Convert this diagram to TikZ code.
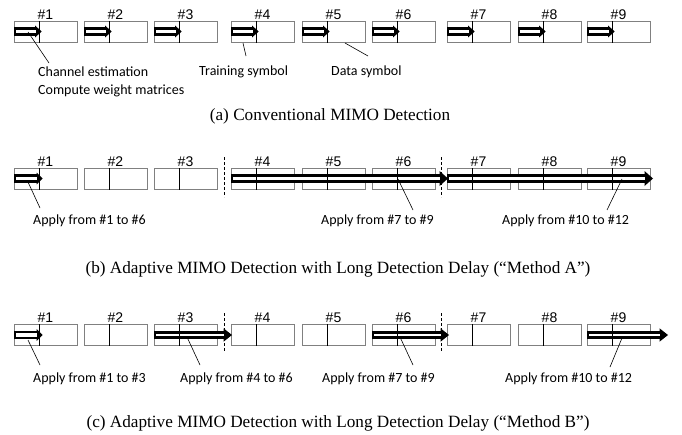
\documentclass[tikz,border=0pt]{standalone}
\usepackage{fontspec}
\setmainfont{Liberation Serif}
\newfontfamily\calfont{Carlito}
\newfontfamily\arifont{Liberation Sans}
\usetikzlibrary{calc}
% hollow arrow: x1, tip x, y, inner white half, head length, head half height
\newcommand\harrow[6]{%
  \fill[black] (#1,{#3-4.2}) rectangle ({#2-#5},{#3+4.2});
  \fill[black] ({#2-#5-0.5},{#3-#6}) -- (#2,#3) -- ({#2-#5-0.5},{#3+#6}) -- cycle;
  \fill[white] ({#1+2.2},{#3-#4}) rectangle ({#2-#5},{#3+#4});
}
\begin{document}
\begin{tikzpicture}[x=1pt,y=-1pt,
  slot/.style={draw=black!50, line width=0.8pt, minimum width=63pt, minimum height=21.5pt, inner sep=0pt, outer sep=0pt, anchor=north west},
  num/.style={font=\arifont\fontsize{14}{16}\selectfont, anchor=base, inner sep=0pt},
  lbl/.style={font=\calfont\fontsize{14}{17}\selectfont, anchor=base west, inner sep=0pt},
  captext/.style={font=\fontsize{17.2}{20}\selectfont, anchor=base, inner sep=0pt},
  ptr/.style={draw=black, line width=0.6pt},
  sepline/.style={draw=black, dash pattern=on 3pt off 2pt, line width=0.6pt}]
\useasboundingbox (0,0) rectangle (682,434);
\fill[white] (0,0) rectangle (682,434);

% boxes
\foreach \r/\t in {a/21,b/168,c/324}{
  \foreach \i/\x in {1/14,2/84,3/154,4/231,5/302,6/372,7/447,8/518,9/587}{
    \node[slot] (\r\i) at (\x,\t) {};
    \node[num] (n\r\i) at ($(\r\i.north)+(0,-2)$) {\#\i};
  }
}

% arrows
\foreach \x in {14,84,154,231,302,372,447,518,587}{
  \harrow{\x}{\x+27.7}{31.5}{1.8}{6}{5.8}
}
\harrow{14}{42.7}{178.5}{1.6}{5.5}{5.8}
\harrow{231}{448}{178.5}{1.1}{8}{7.5}
\harrow{447}{653}{178.5}{1.1}{8}{7.5}
\harrow{14}{42.7}{335}{1.6}{5.5}{5.8}
\harrow{154}{232}{335}{1.1}{8}{6.7}
\harrow{372}{449}{335}{1.1}{8}{6.7}
\harrow{587}{668}{335}{1.1}{8}{6.7}

% dividers
\foreach \r in {a,b,c}{
  \foreach \i in {1,...,9}{
    \draw[line width=0.8pt] ($(\r\i.north west)+(25,0)$) -- ($(\r\i.south west)+(25,0)$);
  }
}

% separators
\draw[sepline] (224,157) -- (224,197);
\draw[sepline] (441,157) -- (441,197);
\draw[sepline] (224,313) -- (224,352);
\draw[sepline] (441,313) -- (441,352);

% row a labels
\node[lbl] (ce) at (38,76) {Channel estimation};
\node[lbl] (cw) at (38,94) {Compute weight matrices};
\node[lbl] (ts) at (199,75.5) {Training symbol};
\node[lbl] (ds) at (331,75.5) {Data symbol};
\coordinate (pa1) at (28,32);  \coordinate (qa1) at (49,63);
\coordinate (pa2) at (243,43); \coordinate (qa2) at (246,56);
\coordinate (pa3) at (345,43); \coordinate (qa3) at (368,56);
\draw[ptr] (pa1) -- (qa1);
\draw[ptr] (pa2) -- (qa2);
\draw[ptr] (pa3) -- (qa3);
\node[captext] (capa) at (330,120) {(a) Conventional MIMO Detection};

% row b labels
\node[lbl] (b1t) at (33,224.5) {Apply from \#1 to \#6};
\node[lbl] (b2t) at (321,224.5) {Apply from \#7 to \#9};
\node[lbl] (b3t) at (502,224.5) {Apply from \#10 to \#12};
\coordinate (pb1) at (28,182);  \coordinate (qb1) at (40,208);
\coordinate (pb2) at (398,179); \coordinate (qb2) at (413,210);
\coordinate (pb3) at (622,179); \coordinate (qb3) at (607,210);
\draw[ptr] (pb1) -- (qb1);
\draw[ptr] (pb2) -- (qb2);
\draw[ptr] (pb3) -- (qb3);
\node[captext] (capb) at (338,273) {(b) Adaptive MIMO Detection with Long Detection Delay (“Method A”)};

% row c labels
\node[lbl] (c1t) at (33,382.5) {Apply from \#1 to \#3};
\node[lbl] (c2t) at (180,382.5) {Apply from \#4 to \#6};
\node[lbl] (c3t) at (322,382.5) {Apply from \#7 to \#9};
\node[lbl] (c4t) at (505,382.5) {Apply from \#10 to \#12};
\coordinate (pc1) at (28,340);  \coordinate (qc1) at (40,365);
\coordinate (pc2) at (187,337); \coordinate (qc2) at (200,365);
\coordinate (pc3) at (400,337); \coordinate (qc3) at (413,365);
\coordinate (pc4) at (622,338); \coordinate (qc4) at (610,367);
\draw[ptr] (pc1) -- (qc1);
\draw[ptr] (pc2) -- (qc2);
\draw[ptr] (pc3) -- (qc3);
\draw[ptr] (pc4) -- (qc4);
\node[captext] (capc) at (338,427) {(c) Adaptive MIMO Detection with Long Detection Delay (“Method B”)};
\end{tikzpicture}
\end{document}
